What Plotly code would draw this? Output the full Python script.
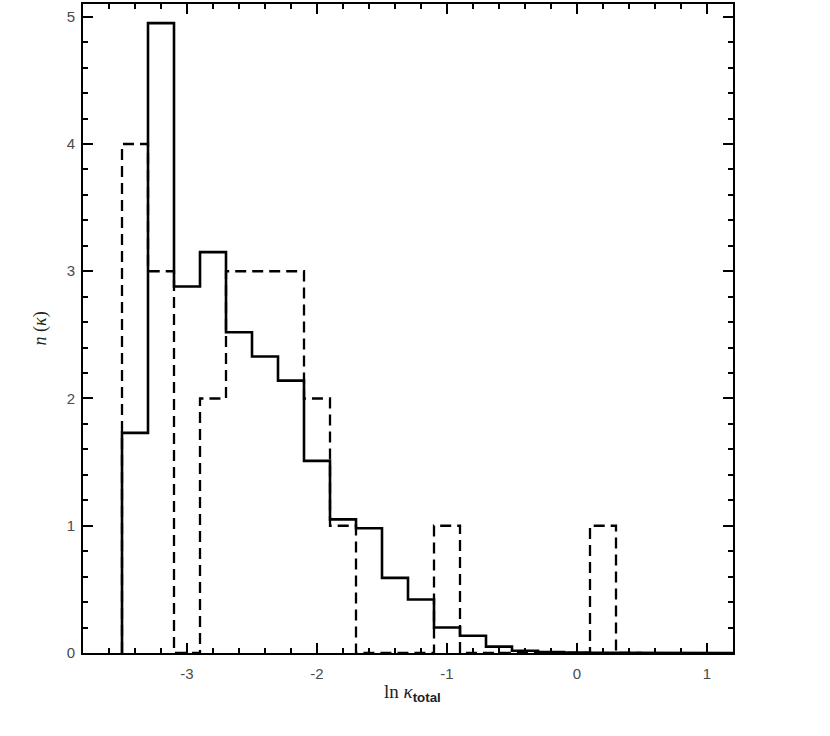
import plotly.graph_objects as go

# Bin left edges (width 0.2) and histogram heights
solid_edges = [-3.5, -3.3, -3.1, -2.9, -2.7, -2.5, -2.3, -2.1, -1.9, -1.7, -1.5,
               -1.3, -1.1, -0.9, -0.7, -0.5, -0.3, -0.1, 0.1, 0.3, 0.5, 0.7, 0.9, 1.1]
solid_vals = [1.73, 4.95, 2.88, 3.15, 2.52, 2.33, 2.14, 1.51, 1.05, 0.98, 0.59,
              0.42, 0.20, 0.135, 0.05, 0.018, 0.007, 0.003, 0.001, 0.0, 0.0, 0.0, 0.0, 0.0]

dashed_edges = [-3.5, -3.3, -3.1, -2.9, -2.7, -2.5, -2.3, -2.1, -1.9, -1.7, -1.5,
                -1.3, -1.1, -0.9, -0.7, -0.5, -0.3, -0.1, 0.1, 0.3]
dashed_vals = [4, 3, 0, 2, 3, 3, 3, 2, 1, 0, 0, 0, 1, 0, 0, 0, 0, 0, 1, 0]

x_ticks = [-3, -2, -1, 0, 1]
y_ticks = [0, 1, 2, 3, 4, 5]
bin_w = 0.2


def step_xy(edges, vals):
    xs = [edges[0]]
    ys = [0]
    for e, v in zip(edges, vals):
        xs += [e, e + bin_w]
        ys += [v, v]
    xs.append(edges[-1] + bin_w)
    ys.append(0)
    return xs, ys


sx, sy = step_xy(solid_edges, solid_vals)
dx, dy = step_xy(dashed_edges, dashed_vals)

fig = go.Figure()
fig.add_trace(go.Scatter(x=dx, y=dy, mode="lines",
                         line=dict(color="black", width=2.3, dash="11px,6px"),
                         showlegend=False))
fig.add_trace(go.Scatter(x=sx, y=sy, mode="lines",
                         line=dict(color="black", width=2.6),
                         showlegend=False))

axis_common = dict(showgrid=False, zeroline=False, showline=True, linecolor="black",
                   linewidth=2, mirror="allticks", ticks="inside", ticklen=10,
                   tickwidth=2, tickcolor="black",
                   tickfont=dict(family="Liberation Sans, Arial, sans-serif", size=15,
                                 color="#4a4a4a"))

fig.update_xaxes(range=[-3.8, 1.2], tickvals=x_ticks,
                 ticktext=[str(v) for v in x_ticks], ticklabelstandoff=6,
                 minor=dict(ticks="inside", ticklen=5, tickwidth=2, tickcolor="black",
                            dtick=0.2, tick0=0),
                 **axis_common)
fig.update_yaxes(range=[0, 5.1], tickvals=y_ticks,
                 ticktext=[str(v) for v in y_ticks], ticklabelstandoff=3,
                 minor=dict(ticks="inside", ticklen=5, tickwidth=2, tickcolor="black",
                            dtick=0.2, tick0=0),
                 **axis_common)

fig.add_annotation(xref="paper", yref="paper", x=0.5, y=0, yshift=-26, xshift=4,
                   xanchor="center", yanchor="top", showarrow=False,
                   text="ln <i>κ</i><sub><span style='font-family:Liberation Sans, Arial, sans-serif;font-weight:bold'>total</span></sub>",
                   font=dict(family="Liberation Serif, Times New Roman, serif", size=19,
                             color="#222"))
fig.add_annotation(xref="paper", yref="paper", x=0, y=0.5, xshift=-43,
                   xanchor="center", yanchor="middle", showarrow=False, textangle=-90,
                   text="<i>n</i> (<i>κ</i>)",
                   font=dict(family="Liberation Serif, Times New Roman, serif", size=18,
                             color="#222"))

fig.update_layout(width=830, height=736, plot_bgcolor="white", paper_bgcolor="white",
                  margin=dict(l=83, r=97, t=2, b=83))

fig.write_html("out.html", config={"displayModeBar": False},
               post_script="document.body.style.margin='0';document.body.style.padding='0';")
